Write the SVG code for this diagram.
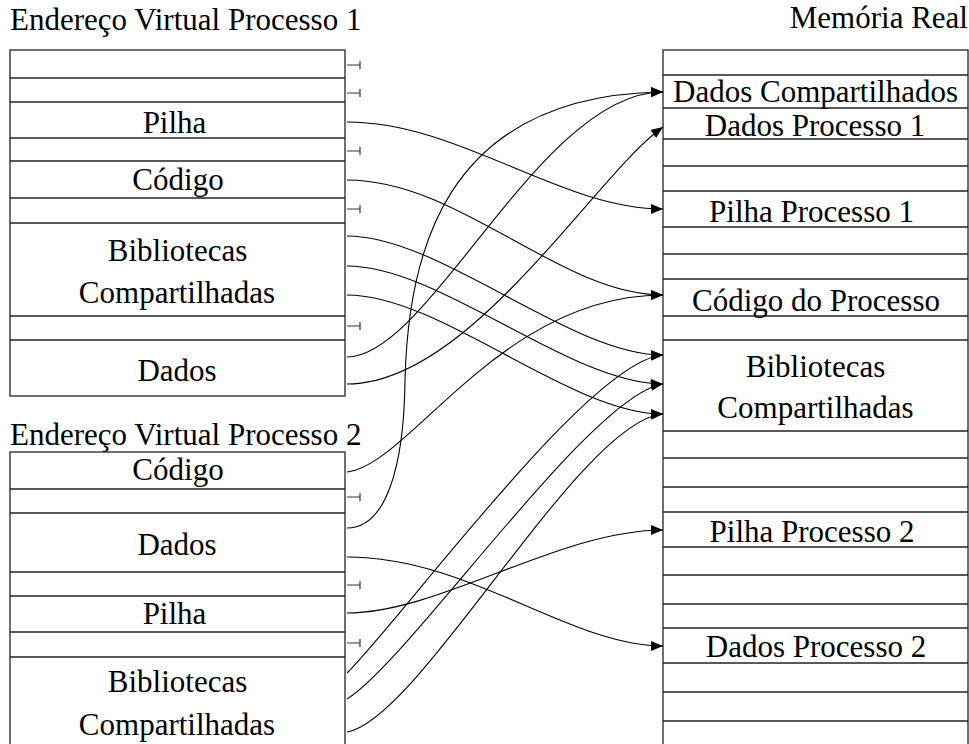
<svg xmlns="http://www.w3.org/2000/svg" width="969" height="744" viewBox="0 0 969 744">
<style>
.box{fill:none;stroke:#222;stroke-width:1.3}
.ln{stroke:#222;stroke-width:1.3}
.c{fill:none;stroke:#000;stroke-width:1.1;marker-end:url(#ah)}
.stub{fill:none;stroke:#333;stroke-width:1.2}
</style>
<defs>
<marker id="ah" markerUnits="userSpaceOnUse" markerWidth="13" markerHeight="11" refX="12" refY="5" orient="auto">
<path d="M0,0 L12,5 L0,10 z" fill="#000"/>
</marker>
</defs>
<rect width="969" height="744" fill="#fff"/>

<g id="vp1">
<text x="10" y="30" font-size="31" font-family="Liberation Serif">Endereço Virtual Processo 1</text>
<rect class="box" x="10" y="50" width="335" height="346"/>
<g class="ln">
<line x1="10" y1="78" x2="345" y2="78"/>
<line x1="10" y1="102" x2="345" y2="102"/>
<line x1="10" y1="138" x2="345" y2="138"/>
<line x1="10" y1="161" x2="345" y2="161"/>
<line x1="10" y1="198" x2="345" y2="198"/>
<line x1="10" y1="223" x2="345" y2="223"/>
<line x1="10" y1="316" x2="345" y2="316"/>
<line x1="10" y1="340" x2="345" y2="340"/>
</g>
<g id="vp1-pilha"><text x="174.5" y="133" font-size="31" font-family="Liberation Serif" text-anchor="middle">Pilha</text></g>
<g id="vp1-codigo"><text x="178" y="190" font-size="31" font-family="Liberation Serif" text-anchor="middle">Código</text></g>
<g id="vp1-bib"><text x="177.5" y="261" font-size="31" font-family="Liberation Serif" text-anchor="middle">Bibliotecas</text><text x="177" y="303" font-size="31" font-family="Liberation Serif" text-anchor="middle">Compartilhadas</text></g>
<g id="vp1-dados"><text x="177" y="381" font-size="31" font-family="Liberation Serif" text-anchor="middle">Dados</text></g>
</g>

<g id="vp2">
<text x="10" y="445" font-size="31" font-family="Liberation Serif">Endereço Virtual Processo 2</text>
<rect class="box" x="10" y="452" width="335" height="310"/>
<g class="ln">
<line x1="10" y1="489" x2="345" y2="489"/>
<line x1="10" y1="513" x2="345" y2="513"/>
<line x1="10" y1="572" x2="345" y2="572"/>
<line x1="10" y1="596" x2="345" y2="596"/>
<line x1="10" y1="632" x2="345" y2="632"/>
<line x1="10" y1="657" x2="345" y2="657"/>
</g>
<g id="vp2-codigo"><text x="178" y="480" font-size="31" font-family="Liberation Serif" text-anchor="middle">Código</text></g>
<g id="vp2-dados"><text x="177" y="555" font-size="31" font-family="Liberation Serif" text-anchor="middle">Dados</text></g>
<g id="vp2-pilha"><text x="174.5" y="624" font-size="31" font-family="Liberation Serif" text-anchor="middle">Pilha</text></g>
<g id="vp2-bib"><text x="177.5" y="692" font-size="31" font-family="Liberation Serif" text-anchor="middle">Bibliotecas</text><text x="177" y="735" font-size="31" font-family="Liberation Serif" text-anchor="middle">Compartilhadas</text></g>
</g>

<g id="mem">
<text x="968" y="28" font-size="31" font-family="Liberation Serif" text-anchor="end">Memória Real</text>
<rect class="box" x="663" y="50" width="305" height="712"/>
<g class="ln">
<line x1="663" y1="75" x2="968" y2="75"/>
<line x1="663" y1="108" x2="968" y2="108"/>
<line x1="663" y1="139" x2="968" y2="139"/>
<line x1="663" y1="166" x2="968" y2="166"/>
<line x1="663" y1="191" x2="968" y2="191"/>
<line x1="663" y1="227" x2="968" y2="227"/>
<line x1="663" y1="254" x2="968" y2="254"/>
<line x1="663" y1="279" x2="968" y2="279"/>
<line x1="663" y1="316" x2="968" y2="316"/>
<line x1="663" y1="340" x2="968" y2="340"/>
<line x1="663" y1="431" x2="968" y2="431"/>
<line x1="663" y1="458" x2="968" y2="458"/>
<line x1="663" y1="487" x2="968" y2="487"/>
<line x1="663" y1="512" x2="968" y2="512"/>
<line x1="663" y1="547" x2="968" y2="547"/>
<line x1="663" y1="575" x2="968" y2="575"/>
<line x1="663" y1="604" x2="968" y2="604"/>
<line x1="663" y1="628" x2="968" y2="628"/>
<line x1="663" y1="663" x2="968" y2="663"/>
<line x1="663" y1="692" x2="968" y2="692"/>
<line x1="663" y1="721" x2="968" y2="721"/>
</g>
<g id="mem-dadoscomp"><text x="815.5" y="102" font-size="31" font-family="Liberation Serif" text-anchor="middle">Dados Compartilhados</text></g>
<g id="mem-dados1"><text x="815" y="136" font-size="31" font-family="Liberation Serif" text-anchor="middle">Dados Processo 1</text></g>
<g id="mem-pilha1"><text x="811.5" y="222" font-size="31" font-family="Liberation Serif" text-anchor="middle">Pilha Processo 1</text></g>
<g id="mem-codigo"><text x="816" y="311" font-size="31" font-family="Liberation Serif" text-anchor="middle">Código do Processo</text></g>
<g id="mem-bib"><text x="815.5" y="377" font-size="31" font-family="Liberation Serif" text-anchor="middle">Bibliotecas</text><text x="815.5" y="418" font-size="31" font-family="Liberation Serif" text-anchor="middle">Compartilhadas</text></g>
<g id="mem-pilha2"><text x="812" y="542" font-size="31" font-family="Liberation Serif" text-anchor="middle">Pilha Processo 2</text></g>
<g id="mem-dados2"><text x="816" y="657" font-size="31" font-family="Liberation Serif" text-anchor="middle">Dados Processo 2</text></g>
</g>

<g id="connectors">
<g id="stubs" class="stub">
<path d="M347,65 H360 M360,61 V69"/>
<path d="M347,93 H360 M360,89 V97"/>
<path d="M347,151 H360 M360,147 V155"/>
<path d="M347,209 H360 M360,205 V213"/>
<path d="M347,326 H360 M360,322 V330"/>
<path d="M347,497 H360 M360,493 V501"/>
<path d="M347,585 H360 M360,581 V589"/>
<path d="M347,643 H360 M360,639 V647"/>
</g>
<path class="c" d="M347,122 C460,122 560,209 663,209"/>
<path class="c" d="M347,180 C460,180 560,295 663,295"/>
<path class="c" d="M347,236 C440,236 570,355 663,355"/>
<path class="c" d="M347,266 C440,266 570,384 663,384"/>
<path class="c" d="M347,295 C440,295 570,414 663,414"/>
<path class="c" d="M347,357 C430,357 540,92 663,92"/>
<path class="c" d="M347,384 C470,384 595,175 663,127"/>
<path class="c" d="M347,472 C410,465 500,295 663,295"/>
<path class="c" d="M347,528 C385,528 404,470 405,380 C408,260 440,95 663,92"/>
<path class="c" d="M347,557 C470,557 570,646 663,646"/>
<path class="c" d="M347,613 C440,613 560,530 663,530"/>
<path class="c" d="M347,673 C405,615 590,360 663,355"/>
<path class="c" d="M347,699 C410,660 590,395 663,384"/>
<path class="c" d="M347,732 C420,720 580,420 663,414"/>
</g>
</svg>
